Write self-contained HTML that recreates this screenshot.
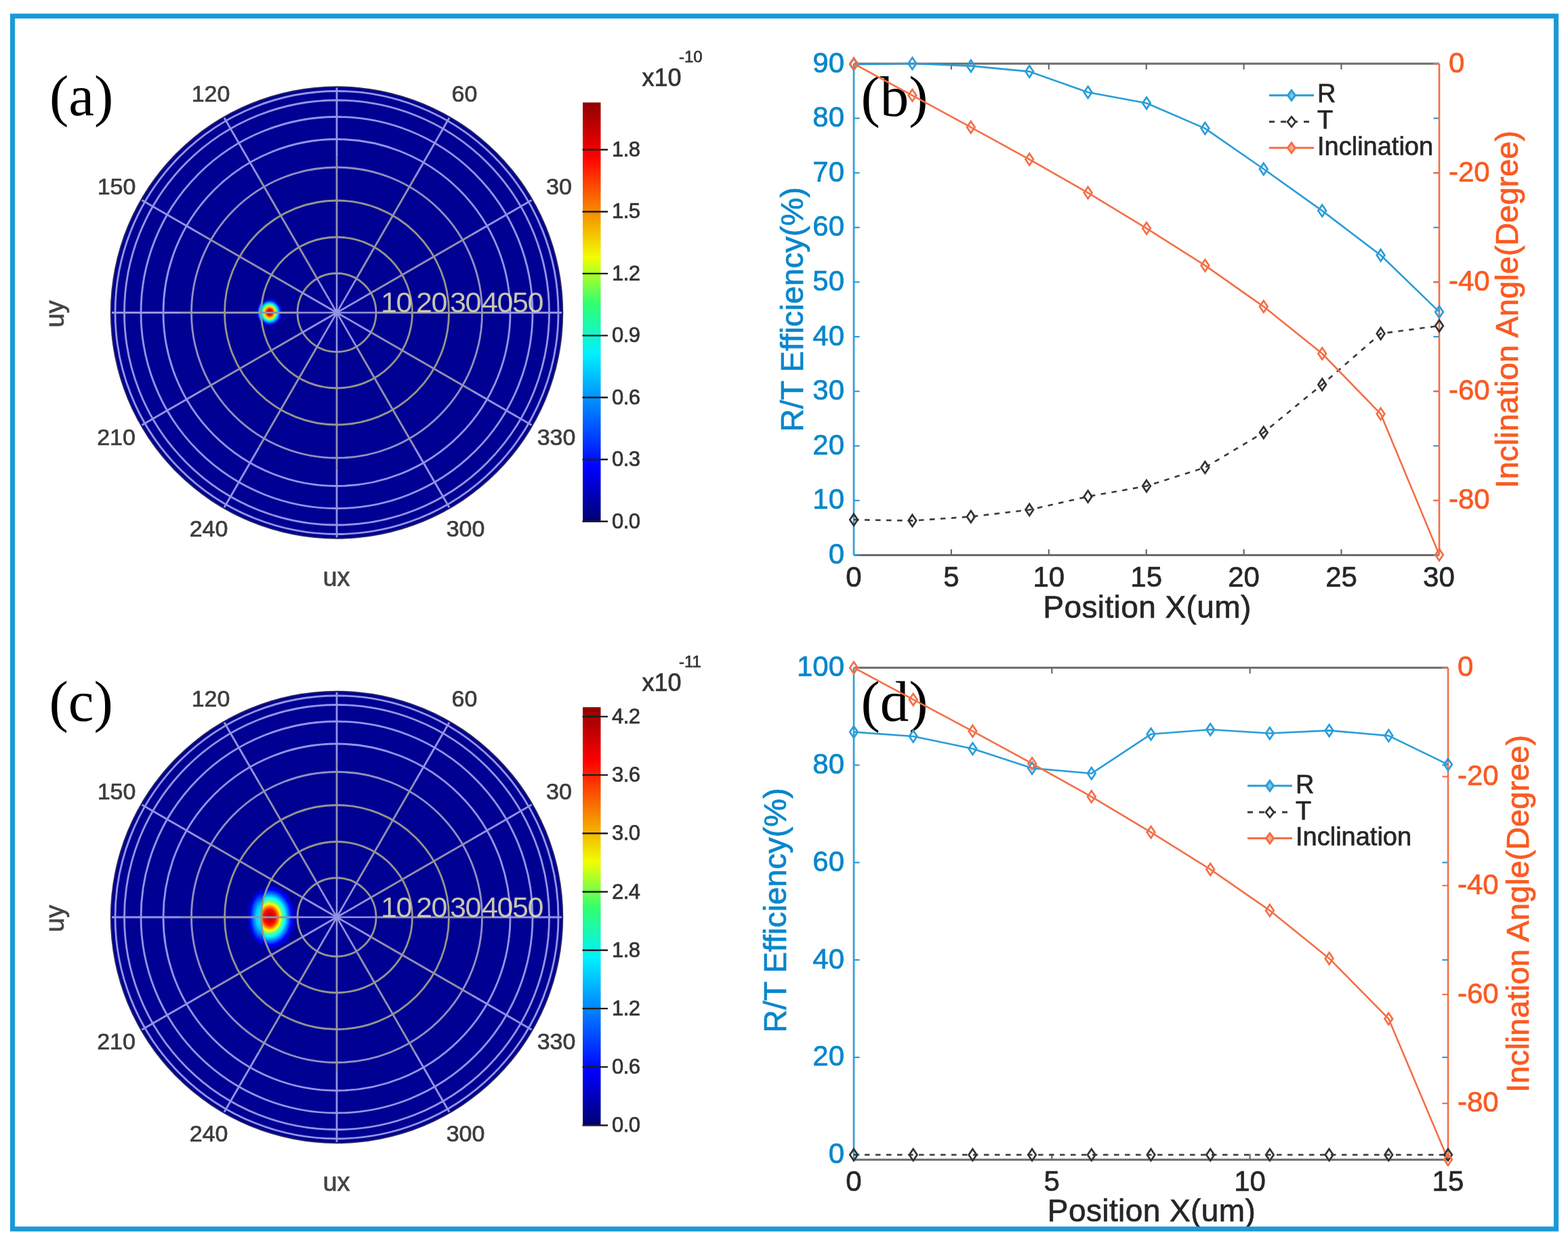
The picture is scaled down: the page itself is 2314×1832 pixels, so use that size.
<!DOCTYPE html>
<html><head><meta charset="utf-8"><title>Figure</title>
<style>html,body{margin:0;padding:0;background:#fff;}svg{display:block;}</style>
</head><body>
<svg width="2314" height="1832" viewBox="0 0 2314 1832">
<defs>
<linearGradient id="jet" x1="0" y1="1" x2="0" y2="0"><stop offset="0" stop-color="#000070"/><stop offset="0.13" stop-color="#0000ff"/><stop offset="0.40" stop-color="#00f0ff"/><stop offset="0.52" stop-color="#30ff70"/><stop offset="0.63" stop-color="#f0ff00"/><stop offset="0.87" stop-color="#ff0000"/><stop offset="1" stop-color="#900000"/></linearGradient>
<radialGradient id="spotA" cx="0.5" cy="0.5" r="0.5">
<stop offset="0" stop-color="#900000" stop-opacity="1"/>
<stop offset="0.14" stop-color="#d00000" stop-opacity="1"/>
<stop offset="0.26" stop-color="#ff3000" stop-opacity="1"/>
<stop offset="0.38" stop-color="#ffd000" stop-opacity="1"/>
<stop offset="0.48" stop-color="#a0ff60" stop-opacity="1"/>
<stop offset="0.58" stop-color="#00ffd0" stop-opacity="1"/>
<stop offset="0.68" stop-color="#00a0ff" stop-opacity="1"/>
<stop offset="0.8" stop-color="#0010ff" stop-opacity="1"/>
<stop offset="1" stop-color="#0000e0" stop-opacity="0"/>
</radialGradient>
<radialGradient id="spotC" cx="0.5" cy="0.5" r="0.5">
<stop offset="0" stop-color="#9a0000" stop-opacity="1"/>
<stop offset="0.1" stop-color="#d00000" stop-opacity="1"/>
<stop offset="0.24" stop-color="#ff1000" stop-opacity="1"/>
<stop offset="0.34" stop-color="#ff9000" stop-opacity="1"/>
<stop offset="0.41" stop-color="#ffff00" stop-opacity="1"/>
<stop offset="0.5" stop-color="#60ff90" stop-opacity="1"/>
<stop offset="0.6" stop-color="#00ffff" stop-opacity="1"/>
<stop offset="0.72" stop-color="#0080ff" stop-opacity="1"/>
<stop offset="0.85" stop-color="#0000ff" stop-opacity="1"/>
<stop offset="1" stop-color="#0000ff" stop-opacity="0"/>
</radialGradient>
<radialGradient id="spotL" cx="0.5" cy="0.5" r="0.5">
<stop offset="0" stop-color="#00ffff" stop-opacity="1"/>
<stop offset="0.4" stop-color="#00d0ff" stop-opacity="1"/>
<stop offset="0.65" stop-color="#0060ff" stop-opacity="1"/>
<stop offset="0.85" stop-color="#0000f0" stop-opacity="0.8"/>
<stop offset="1" stop-color="#0000e0" stop-opacity="0"/>
</radialGradient>
<radialGradient id="halo" cx="0.5" cy="0.5" r="0.5">
<stop offset="0" stop-color="#0000ff" stop-opacity="1"/>
<stop offset="0.8" stop-color="#0000f0" stop-opacity="0.9"/>
<stop offset="1" stop-color="#0000c0" stop-opacity="0"/>
</radialGradient>
<clipPath id="clipA"><circle cx="497" cy="461.5" r="111.5"/></clipPath>
<clipPath id="clipC"><circle cx="497" cy="1354" r="111.5"/></clipPath>
<clipPath id="clipAo"><path clip-rule="evenodd" d="M300 350H600V580H300Z M385.5 461.5a111.5 111.5 0 1 0 223 0a111.5 111.5 0 1 0 -223 0Z"/></clipPath>
<clipPath id="clipCo"><path clip-rule="evenodd" d="M300 1240H600V1470H300Z M385.5 1354a111.5 111.5 0 1 0 223 0a111.5 111.5 0 1 0 -223 0Z"/></clipPath>
</defs>
<rect x="0" y="0" width="2314" height="1832" fill="#ffffff"/>
<text x="73" y="169.5" font-size="85" fill="#000000" text-anchor="start" font-family="'Liberation Serif', 'Times New Roman', serif" >(a)</text>
<text x="72.5" y="1064" font-size="85" fill="#000000" text-anchor="start" font-family="'Liberation Serif', 'Times New Roman', serif" >(c)</text>
<circle cx="497" cy="461.5" r="334.2" fill="#262660"/>
<circle cx="497" cy="461.5" r="332.4" fill="#000092"/>
<ellipse cx="386" cy="461" rx="7" ry="17" fill="url(#spotL)" clip-path="url(#clipAo)"/>
<g clip-path="url(#clipA)">
<ellipse cx="398" cy="461" rx="19.5" ry="21.5" fill="url(#spotA)"/>
</g>
<circle cx="497" cy="461.5" r="58" fill="none" stroke="#96968a" stroke-width="2.8"/>
<circle cx="497" cy="461.5" r="111.5" fill="none" stroke="#96968a" stroke-width="2.8"/>
<circle cx="497" cy="461.5" r="165.5" fill="none" stroke="#96968a" stroke-width="2.8"/>
<circle cx="497" cy="461.5" r="214.5" fill="none" stroke="#9090c4" stroke-width="2.8"/>
<circle cx="497" cy="461.5" r="256" fill="none" stroke="#9494e8" stroke-width="2.8"/>
<circle cx="497" cy="461.5" r="289" fill="none" stroke="#9494e8" stroke-width="2.8"/>
<circle cx="497" cy="461.5" r="313.5" fill="none" stroke="#9494e8" stroke-width="2.8"/>
<circle cx="497" cy="461.5" r="327" fill="none" stroke="#9494e8" stroke-width="2.8"/>
<line x1="497" y1="461.5" x2="557" y2="461.5" stroke="#9494e0" stroke-width="2.6" />
<line x1="557" y1="461.5" x2="727" y2="461.5" stroke="#9292ac" stroke-width="2.8" />
<line x1="727" y1="461.5" x2="829" y2="461.5" stroke="#9494e6" stroke-width="2.8" />
<line x1="497" y1="461.5" x2="548.96" y2="431.5" stroke="#9494e0" stroke-width="2.6" />
<line x1="548.96" y1="431.5" x2="696.19" y2="346.5" stroke="#9292ac" stroke-width="2.8" />
<line x1="696.19" y1="346.5" x2="784.52" y2="295.5" stroke="#9494e6" stroke-width="2.8" />
<line x1="497" y1="461.5" x2="527" y2="409.54" stroke="#9494e0" stroke-width="2.6" />
<line x1="527" y1="409.54" x2="612" y2="262.31" stroke="#9292ac" stroke-width="2.8" />
<line x1="612" y1="262.31" x2="663" y2="173.98" stroke="#9494e6" stroke-width="2.8" />
<line x1="497" y1="461.5" x2="497" y2="401.5" stroke="#9494e0" stroke-width="2.6" />
<line x1="497" y1="401.5" x2="497" y2="231.5" stroke="#9292ac" stroke-width="2.8" />
<line x1="497" y1="231.5" x2="497" y2="129.5" stroke="#9494e6" stroke-width="2.8" />
<line x1="497" y1="461.5" x2="467" y2="409.54" stroke="#9494e0" stroke-width="2.6" />
<line x1="467" y1="409.54" x2="382" y2="262.31" stroke="#9292ac" stroke-width="2.8" />
<line x1="382" y1="262.31" x2="331" y2="173.98" stroke="#9494e6" stroke-width="2.8" />
<line x1="497" y1="461.5" x2="445.04" y2="431.5" stroke="#9494e0" stroke-width="2.6" />
<line x1="445.04" y1="431.5" x2="297.81" y2="346.5" stroke="#9292ac" stroke-width="2.8" />
<line x1="297.81" y1="346.5" x2="209.48" y2="295.5" stroke="#9494e6" stroke-width="2.8" />
<line x1="497" y1="461.5" x2="437" y2="461.5" stroke="#9494e0" stroke-width="2.6" />
<line x1="437" y1="461.5" x2="267" y2="461.5" stroke="#9292ac" stroke-width="2.8" />
<line x1="267" y1="461.5" x2="165" y2="461.5" stroke="#9494e6" stroke-width="2.8" />
<line x1="497" y1="461.5" x2="445.04" y2="491.5" stroke="#9494e0" stroke-width="2.6" />
<line x1="445.04" y1="491.5" x2="297.81" y2="576.5" stroke="#9292ac" stroke-width="2.8" />
<line x1="297.81" y1="576.5" x2="209.48" y2="627.5" stroke="#9494e6" stroke-width="2.8" />
<line x1="497" y1="461.5" x2="467" y2="513.46" stroke="#9494e0" stroke-width="2.6" />
<line x1="467" y1="513.46" x2="382" y2="660.69" stroke="#9292ac" stroke-width="2.8" />
<line x1="382" y1="660.69" x2="331" y2="749.02" stroke="#9494e6" stroke-width="2.8" />
<line x1="497" y1="461.5" x2="497" y2="521.5" stroke="#9494e0" stroke-width="2.6" />
<line x1="497" y1="521.5" x2="497" y2="691.5" stroke="#9292ac" stroke-width="2.8" />
<line x1="497" y1="691.5" x2="497" y2="793.5" stroke="#9494e6" stroke-width="2.8" />
<line x1="497" y1="461.5" x2="527" y2="513.46" stroke="#9494e0" stroke-width="2.6" />
<line x1="527" y1="513.46" x2="612" y2="660.69" stroke="#9292ac" stroke-width="2.8" />
<line x1="612" y1="660.69" x2="663" y2="749.02" stroke="#9494e6" stroke-width="2.8" />
<line x1="497" y1="461.5" x2="548.96" y2="491.5" stroke="#9494e0" stroke-width="2.6" />
<line x1="548.96" y1="491.5" x2="696.19" y2="576.5" stroke="#9292ac" stroke-width="2.8" />
<line x1="696.19" y1="576.5" x2="784.52" y2="627.5" stroke="#9494e6" stroke-width="2.8" />
<text x="562" y="461" font-size="43" fill="#dcdcb4" text-anchor="start" font-family="'Liberation Sans', Arial, Helvetica, sans-serif" letter-spacing="-1.5" fill-opacity="0.9">10</text>
<text x="614" y="461" font-size="43" fill="#dcdcb4" text-anchor="start" font-family="'Liberation Sans', Arial, Helvetica, sans-serif" letter-spacing="-1.5" fill-opacity="0.9">20</text>
<text x="664" y="461" font-size="43" fill="#dcdcb4" text-anchor="start" font-family="'Liberation Sans', Arial, Helvetica, sans-serif" letter-spacing="-1.5" fill-opacity="0.9">30</text>
<text x="711" y="461" font-size="43" fill="#dcdcb4" text-anchor="start" font-family="'Liberation Sans', Arial, Helvetica, sans-serif" letter-spacing="-1.5" fill-opacity="0.9">40</text>
<text x="756" y="461" font-size="43" fill="#dcdcb4" text-anchor="start" font-family="'Liberation Sans', Arial, Helvetica, sans-serif" letter-spacing="-1.5" fill-opacity="0.9">50</text>
<text x="311" y="150" font-size="34" fill="#3c3c3c" text-anchor="middle" font-family="'Liberation Sans', Arial, Helvetica, sans-serif" stroke="#3c3c3c" stroke-width="0.7" >120</text>
<text x="685.5" y="150" font-size="34" fill="#3c3c3c" text-anchor="middle" font-family="'Liberation Sans', Arial, Helvetica, sans-serif" stroke="#3c3c3c" stroke-width="0.7" >60</text>
<text x="172" y="287" font-size="34" fill="#3c3c3c" text-anchor="middle" font-family="'Liberation Sans', Arial, Helvetica, sans-serif" stroke="#3c3c3c" stroke-width="0.7" >150</text>
<text x="825" y="287" font-size="34" fill="#3c3c3c" text-anchor="middle" font-family="'Liberation Sans', Arial, Helvetica, sans-serif" stroke="#3c3c3c" stroke-width="0.7" >30</text>
<text x="171.5" y="656.5" font-size="34" fill="#3c3c3c" text-anchor="middle" font-family="'Liberation Sans', Arial, Helvetica, sans-serif" stroke="#3c3c3c" stroke-width="0.7" >210</text>
<text x="821" y="656.5" font-size="34" fill="#3c3c3c" text-anchor="middle" font-family="'Liberation Sans', Arial, Helvetica, sans-serif" stroke="#3c3c3c" stroke-width="0.7" >330</text>
<text x="308" y="792" font-size="34" fill="#3c3c3c" text-anchor="middle" font-family="'Liberation Sans', Arial, Helvetica, sans-serif" stroke="#3c3c3c" stroke-width="0.7" >240</text>
<text x="687" y="792" font-size="34" fill="#3c3c3c" text-anchor="middle" font-family="'Liberation Sans', Arial, Helvetica, sans-serif" stroke="#3c3c3c" stroke-width="0.7" >300</text>
<text x="496.5" y="865" font-size="38" fill="#444444" text-anchor="middle" font-family="'Liberation Sans', Arial, Helvetica, sans-serif" stroke="#444444" stroke-width="0.7" >ux</text>
<text transform="translate(94,463.5) rotate(-90)" font-size="38" fill="#444444" stroke="#444444" stroke-width="0.7" text-anchor="middle" font-family="'Liberation Sans', Arial, Helvetica, sans-serif">uy</text>
<rect x="860" y="151.3" width="26.5" height="618.4" fill="url(#jet)"/>
<line x1="859.5" y1="769.7" x2="897" y2="769.7" stroke="#1e1e1e" stroke-width="2.4" />
<text x="903" y="779.7" font-size="31" fill="#333333" text-anchor="start" font-family="'Liberation Sans', Arial, Helvetica, sans-serif" stroke="#333333" stroke-width="0.7" letter-spacing="-0.5">0.0</text>
<line x1="859.5" y1="678.25" x2="897" y2="678.25" stroke="#1e1e1e" stroke-width="2.4" />
<text x="903" y="688.25" font-size="31" fill="#333333" text-anchor="start" font-family="'Liberation Sans', Arial, Helvetica, sans-serif" stroke="#333333" stroke-width="0.7" letter-spacing="-0.5">0.3</text>
<line x1="859.5" y1="586.8" x2="897" y2="586.8" stroke="#1e1e1e" stroke-width="2.4" />
<text x="903" y="596.8" font-size="31" fill="#333333" text-anchor="start" font-family="'Liberation Sans', Arial, Helvetica, sans-serif" stroke="#333333" stroke-width="0.7" letter-spacing="-0.5">0.6</text>
<line x1="859.5" y1="495.35" x2="897" y2="495.35" stroke="#1e1e1e" stroke-width="2.4" />
<text x="903" y="505.35" font-size="31" fill="#333333" text-anchor="start" font-family="'Liberation Sans', Arial, Helvetica, sans-serif" stroke="#333333" stroke-width="0.7" letter-spacing="-0.5">0.9</text>
<line x1="859.5" y1="403.9" x2="897" y2="403.9" stroke="#1e1e1e" stroke-width="2.4" />
<text x="903" y="413.9" font-size="31" fill="#333333" text-anchor="start" font-family="'Liberation Sans', Arial, Helvetica, sans-serif" stroke="#333333" stroke-width="0.7" letter-spacing="-0.5">1.2</text>
<line x1="859.5" y1="312.45" x2="897" y2="312.45" stroke="#1e1e1e" stroke-width="2.4" />
<text x="903" y="322.45" font-size="31" fill="#333333" text-anchor="start" font-family="'Liberation Sans', Arial, Helvetica, sans-serif" stroke="#333333" stroke-width="0.7" letter-spacing="-0.5">1.5</text>
<line x1="859.5" y1="221" x2="897" y2="221" stroke="#1e1e1e" stroke-width="2.4" />
<text x="903" y="231" font-size="31" fill="#333333" text-anchor="start" font-family="'Liberation Sans', Arial, Helvetica, sans-serif" stroke="#333333" stroke-width="0.7" letter-spacing="-0.5">1.8</text>
<text x="947.5" y="127" font-size="36" fill="#333333" text-anchor="start" font-family="'Liberation Sans', Arial, Helvetica, sans-serif" stroke="#333333" stroke-width="0.7" >x10</text>
<text x="1002" y="92" font-size="24" fill="#333333" text-anchor="start" font-family="'Liberation Sans', Arial, Helvetica, sans-serif" stroke="#333333" stroke-width="0.7" >-10</text>
<circle cx="497" cy="1354" r="334.2" fill="#262660"/>
<circle cx="497" cy="1354" r="332.4" fill="#000092"/>
<ellipse cx="400" cy="1354" rx="38" ry="47" fill="url(#halo)"/>
<ellipse cx="386" cy="1354" rx="20" ry="42" fill="url(#spotL)" clip-path="url(#clipCo)"/>
<g clip-path="url(#clipC)">
<ellipse cx="398" cy="1354" rx="38" ry="48" fill="url(#spotC)"/>
</g>
<circle cx="497" cy="1354" r="58" fill="none" stroke="#96968a" stroke-width="2.8"/>
<circle cx="497" cy="1354" r="111.5" fill="none" stroke="#96968a" stroke-width="2.8"/>
<circle cx="497" cy="1354" r="165.5" fill="none" stroke="#96968a" stroke-width="2.8"/>
<circle cx="497" cy="1354" r="214.5" fill="none" stroke="#9090c4" stroke-width="2.8"/>
<circle cx="497" cy="1354" r="256" fill="none" stroke="#9494e8" stroke-width="2.8"/>
<circle cx="497" cy="1354" r="289" fill="none" stroke="#9494e8" stroke-width="2.8"/>
<circle cx="497" cy="1354" r="313.5" fill="none" stroke="#9494e8" stroke-width="2.8"/>
<circle cx="497" cy="1354" r="327" fill="none" stroke="#9494e8" stroke-width="2.8"/>
<line x1="497" y1="1354" x2="557" y2="1354" stroke="#9494e0" stroke-width="2.6" />
<line x1="557" y1="1354" x2="727" y2="1354" stroke="#9292ac" stroke-width="2.8" />
<line x1="727" y1="1354" x2="829" y2="1354" stroke="#9494e6" stroke-width="2.8" />
<line x1="497" y1="1354" x2="548.96" y2="1324" stroke="#9494e0" stroke-width="2.6" />
<line x1="548.96" y1="1324" x2="696.19" y2="1239" stroke="#9292ac" stroke-width="2.8" />
<line x1="696.19" y1="1239" x2="784.52" y2="1188" stroke="#9494e6" stroke-width="2.8" />
<line x1="497" y1="1354" x2="527" y2="1302.04" stroke="#9494e0" stroke-width="2.6" />
<line x1="527" y1="1302.04" x2="612" y2="1154.81" stroke="#9292ac" stroke-width="2.8" />
<line x1="612" y1="1154.81" x2="663" y2="1066.48" stroke="#9494e6" stroke-width="2.8" />
<line x1="497" y1="1354" x2="497" y2="1294" stroke="#9494e0" stroke-width="2.6" />
<line x1="497" y1="1294" x2="497" y2="1124" stroke="#9292ac" stroke-width="2.8" />
<line x1="497" y1="1124" x2="497" y2="1022" stroke="#9494e6" stroke-width="2.8" />
<line x1="497" y1="1354" x2="467" y2="1302.04" stroke="#9494e0" stroke-width="2.6" />
<line x1="467" y1="1302.04" x2="382" y2="1154.81" stroke="#9292ac" stroke-width="2.8" />
<line x1="382" y1="1154.81" x2="331" y2="1066.48" stroke="#9494e6" stroke-width="2.8" />
<line x1="497" y1="1354" x2="445.04" y2="1324" stroke="#9494e0" stroke-width="2.6" />
<line x1="445.04" y1="1324" x2="297.81" y2="1239" stroke="#9292ac" stroke-width="2.8" />
<line x1="297.81" y1="1239" x2="209.48" y2="1188" stroke="#9494e6" stroke-width="2.8" />
<line x1="497" y1="1354" x2="437" y2="1354" stroke="#9494e0" stroke-width="2.6" />
<line x1="437" y1="1354" x2="267" y2="1354" stroke="#9292ac" stroke-width="2.8" />
<line x1="267" y1="1354" x2="165" y2="1354" stroke="#9494e6" stroke-width="2.8" />
<line x1="497" y1="1354" x2="445.04" y2="1384" stroke="#9494e0" stroke-width="2.6" />
<line x1="445.04" y1="1384" x2="297.81" y2="1469" stroke="#9292ac" stroke-width="2.8" />
<line x1="297.81" y1="1469" x2="209.48" y2="1520" stroke="#9494e6" stroke-width="2.8" />
<line x1="497" y1="1354" x2="467" y2="1405.96" stroke="#9494e0" stroke-width="2.6" />
<line x1="467" y1="1405.96" x2="382" y2="1553.19" stroke="#9292ac" stroke-width="2.8" />
<line x1="382" y1="1553.19" x2="331" y2="1641.52" stroke="#9494e6" stroke-width="2.8" />
<line x1="497" y1="1354" x2="497" y2="1414" stroke="#9494e0" stroke-width="2.6" />
<line x1="497" y1="1414" x2="497" y2="1584" stroke="#9292ac" stroke-width="2.8" />
<line x1="497" y1="1584" x2="497" y2="1686" stroke="#9494e6" stroke-width="2.8" />
<line x1="497" y1="1354" x2="527" y2="1405.96" stroke="#9494e0" stroke-width="2.6" />
<line x1="527" y1="1405.96" x2="612" y2="1553.19" stroke="#9292ac" stroke-width="2.8" />
<line x1="612" y1="1553.19" x2="663" y2="1641.52" stroke="#9494e6" stroke-width="2.8" />
<line x1="497" y1="1354" x2="548.96" y2="1384" stroke="#9494e0" stroke-width="2.6" />
<line x1="548.96" y1="1384" x2="696.19" y2="1469" stroke="#9292ac" stroke-width="2.8" />
<line x1="696.19" y1="1469" x2="784.52" y2="1520" stroke="#9494e6" stroke-width="2.8" />
<text x="562" y="1353.5" font-size="43" fill="#dcdcb4" text-anchor="start" font-family="'Liberation Sans', Arial, Helvetica, sans-serif" letter-spacing="-1.5" fill-opacity="0.9">10</text>
<text x="614" y="1353.5" font-size="43" fill="#dcdcb4" text-anchor="start" font-family="'Liberation Sans', Arial, Helvetica, sans-serif" letter-spacing="-1.5" fill-opacity="0.9">20</text>
<text x="664" y="1353.5" font-size="43" fill="#dcdcb4" text-anchor="start" font-family="'Liberation Sans', Arial, Helvetica, sans-serif" letter-spacing="-1.5" fill-opacity="0.9">30</text>
<text x="711" y="1353.5" font-size="43" fill="#dcdcb4" text-anchor="start" font-family="'Liberation Sans', Arial, Helvetica, sans-serif" letter-spacing="-1.5" fill-opacity="0.9">40</text>
<text x="756" y="1353.5" font-size="43" fill="#dcdcb4" text-anchor="start" font-family="'Liberation Sans', Arial, Helvetica, sans-serif" letter-spacing="-1.5" fill-opacity="0.9">50</text>
<text x="311" y="1042.5" font-size="34" fill="#3c3c3c" text-anchor="middle" font-family="'Liberation Sans', Arial, Helvetica, sans-serif" stroke="#3c3c3c" stroke-width="0.7" >120</text>
<text x="685.5" y="1042.5" font-size="34" fill="#3c3c3c" text-anchor="middle" font-family="'Liberation Sans', Arial, Helvetica, sans-serif" stroke="#3c3c3c" stroke-width="0.7" >60</text>
<text x="172" y="1179.5" font-size="34" fill="#3c3c3c" text-anchor="middle" font-family="'Liberation Sans', Arial, Helvetica, sans-serif" stroke="#3c3c3c" stroke-width="0.7" >150</text>
<text x="825" y="1179.5" font-size="34" fill="#3c3c3c" text-anchor="middle" font-family="'Liberation Sans', Arial, Helvetica, sans-serif" stroke="#3c3c3c" stroke-width="0.7" >30</text>
<text x="171.5" y="1549" font-size="34" fill="#3c3c3c" text-anchor="middle" font-family="'Liberation Sans', Arial, Helvetica, sans-serif" stroke="#3c3c3c" stroke-width="0.7" >210</text>
<text x="821" y="1549" font-size="34" fill="#3c3c3c" text-anchor="middle" font-family="'Liberation Sans', Arial, Helvetica, sans-serif" stroke="#3c3c3c" stroke-width="0.7" >330</text>
<text x="308" y="1684.5" font-size="34" fill="#3c3c3c" text-anchor="middle" font-family="'Liberation Sans', Arial, Helvetica, sans-serif" stroke="#3c3c3c" stroke-width="0.7" >240</text>
<text x="687" y="1684.5" font-size="34" fill="#3c3c3c" text-anchor="middle" font-family="'Liberation Sans', Arial, Helvetica, sans-serif" stroke="#3c3c3c" stroke-width="0.7" >300</text>
<text x="496.5" y="1757.5" font-size="38" fill="#444444" text-anchor="middle" font-family="'Liberation Sans', Arial, Helvetica, sans-serif" stroke="#444444" stroke-width="0.7" >ux</text>
<text transform="translate(94,1356) rotate(-90)" font-size="38" fill="#444444" stroke="#444444" stroke-width="0.7" text-anchor="middle" font-family="'Liberation Sans', Arial, Helvetica, sans-serif">uy</text>
<rect x="860" y="1044" width="26.5" height="617.3" fill="url(#jet)"/>
<line x1="859.5" y1="1661.3" x2="897" y2="1661.3" stroke="#1e1e1e" stroke-width="2.4" />
<text x="903" y="1671.3" font-size="31" fill="#333333" text-anchor="start" font-family="'Liberation Sans', Arial, Helvetica, sans-serif" stroke="#333333" stroke-width="0.7" letter-spacing="-0.5">0.0</text>
<line x1="859.5" y1="1575.1" x2="897" y2="1575.1" stroke="#1e1e1e" stroke-width="2.4" />
<text x="903" y="1585.1" font-size="31" fill="#333333" text-anchor="start" font-family="'Liberation Sans', Arial, Helvetica, sans-serif" stroke="#333333" stroke-width="0.7" letter-spacing="-0.5">0.6</text>
<line x1="859.5" y1="1488.9" x2="897" y2="1488.9" stroke="#1e1e1e" stroke-width="2.4" />
<text x="903" y="1498.9" font-size="31" fill="#333333" text-anchor="start" font-family="'Liberation Sans', Arial, Helvetica, sans-serif" stroke="#333333" stroke-width="0.7" letter-spacing="-0.5">1.2</text>
<line x1="859.5" y1="1402.7" x2="897" y2="1402.7" stroke="#1e1e1e" stroke-width="2.4" />
<text x="903" y="1412.7" font-size="31" fill="#333333" text-anchor="start" font-family="'Liberation Sans', Arial, Helvetica, sans-serif" stroke="#333333" stroke-width="0.7" letter-spacing="-0.5">1.8</text>
<line x1="859.5" y1="1316.5" x2="897" y2="1316.5" stroke="#1e1e1e" stroke-width="2.4" />
<text x="903" y="1326.5" font-size="31" fill="#333333" text-anchor="start" font-family="'Liberation Sans', Arial, Helvetica, sans-serif" stroke="#333333" stroke-width="0.7" letter-spacing="-0.5">2.4</text>
<line x1="859.5" y1="1230.3" x2="897" y2="1230.3" stroke="#1e1e1e" stroke-width="2.4" />
<text x="903" y="1240.3" font-size="31" fill="#333333" text-anchor="start" font-family="'Liberation Sans', Arial, Helvetica, sans-serif" stroke="#333333" stroke-width="0.7" letter-spacing="-0.5">3.0</text>
<line x1="859.5" y1="1144.1" x2="897" y2="1144.1" stroke="#1e1e1e" stroke-width="2.4" />
<text x="903" y="1154.1" font-size="31" fill="#333333" text-anchor="start" font-family="'Liberation Sans', Arial, Helvetica, sans-serif" stroke="#333333" stroke-width="0.7" letter-spacing="-0.5">3.6</text>
<line x1="859.5" y1="1057.9" x2="897" y2="1057.9" stroke="#1e1e1e" stroke-width="2.4" />
<text x="903" y="1067.9" font-size="31" fill="#333333" text-anchor="start" font-family="'Liberation Sans', Arial, Helvetica, sans-serif" stroke="#333333" stroke-width="0.7" letter-spacing="-0.5">4.2</text>
<text x="947.5" y="1019.5" font-size="36" fill="#333333" text-anchor="start" font-family="'Liberation Sans', Arial, Helvetica, sans-serif" stroke="#333333" stroke-width="0.7" >x10</text>
<text x="1002" y="984.5" font-size="24" fill="#333333" text-anchor="start" font-family="'Liberation Sans', Arial, Helvetica, sans-serif" stroke="#333333" stroke-width="0.7" >-11</text>
<text x="1270.5" y="170.5" font-size="85" fill="#000000" text-anchor="start" font-family="'Liberation Serif', 'Times New Roman', serif" >(b)</text>
<text x="1270.5" y="1063.5" font-size="85" fill="#000000" text-anchor="start" font-family="'Liberation Serif', 'Times New Roman', serif" >(d)</text>
<line x1="1260" y1="94" x2="2124" y2="94" stroke="#6a6a6a" stroke-width="3" />
<line x1="1260" y1="819.5" x2="2124" y2="819.5" stroke="#6a6a6a" stroke-width="3" />
<line x1="1403.9" y1="819.5" x2="1403.9" y2="810.9" stroke="#6a6a6a" stroke-width="2.2" />
<line x1="1403.9" y1="94" x2="1403.9" y2="102.6" stroke="#6a6a6a" stroke-width="2.2" />
<line x1="1547.8" y1="819.5" x2="1547.8" y2="810.9" stroke="#6a6a6a" stroke-width="2.2" />
<line x1="1547.8" y1="94" x2="1547.8" y2="102.6" stroke="#6a6a6a" stroke-width="2.2" />
<line x1="1691.7" y1="819.5" x2="1691.7" y2="810.9" stroke="#6a6a6a" stroke-width="2.2" />
<line x1="1691.7" y1="94" x2="1691.7" y2="102.6" stroke="#6a6a6a" stroke-width="2.2" />
<line x1="1835.6" y1="819.5" x2="1835.6" y2="810.9" stroke="#6a6a6a" stroke-width="2.2" />
<line x1="1835.6" y1="94" x2="1835.6" y2="102.6" stroke="#6a6a6a" stroke-width="2.2" />
<line x1="1979.5" y1="819.5" x2="1979.5" y2="810.9" stroke="#6a6a6a" stroke-width="2.2" />
<line x1="1979.5" y1="94" x2="1979.5" y2="102.6" stroke="#6a6a6a" stroke-width="2.2" />
<line x1="1260" y1="819.5" x2="1268.6" y2="819.5" stroke="#2a9dd8" stroke-width="2.2" />
<line x1="2124" y1="819.5" x2="2115.4" y2="819.5" stroke="#2a9dd8" stroke-width="2.2" />
<text x="1246" y="832" font-size="42" fill="#0886cc" text-anchor="end" font-family="'Liberation Sans', Arial, Helvetica, sans-serif" stroke="#0886cc" stroke-width="0.7" >0</text>
<line x1="1260" y1="738.89" x2="1268.6" y2="738.89" stroke="#2a9dd8" stroke-width="2.2" />
<line x1="2124" y1="738.89" x2="2115.4" y2="738.89" stroke="#2a9dd8" stroke-width="2.2" />
<text x="1246" y="751.39" font-size="42" fill="#0886cc" text-anchor="end" font-family="'Liberation Sans', Arial, Helvetica, sans-serif" stroke="#0886cc" stroke-width="0.7" >10</text>
<line x1="1260" y1="658.28" x2="1268.6" y2="658.28" stroke="#2a9dd8" stroke-width="2.2" />
<line x1="2124" y1="658.28" x2="2115.4" y2="658.28" stroke="#2a9dd8" stroke-width="2.2" />
<text x="1246" y="670.78" font-size="42" fill="#0886cc" text-anchor="end" font-family="'Liberation Sans', Arial, Helvetica, sans-serif" stroke="#0886cc" stroke-width="0.7" >20</text>
<line x1="1260" y1="577.67" x2="1268.6" y2="577.67" stroke="#2a9dd8" stroke-width="2.2" />
<line x1="2124" y1="577.67" x2="2115.4" y2="577.67" stroke="#2a9dd8" stroke-width="2.2" />
<text x="1246" y="590.17" font-size="42" fill="#0886cc" text-anchor="end" font-family="'Liberation Sans', Arial, Helvetica, sans-serif" stroke="#0886cc" stroke-width="0.7" >30</text>
<line x1="1260" y1="497.06" x2="1268.6" y2="497.06" stroke="#2a9dd8" stroke-width="2.2" />
<line x1="2124" y1="497.06" x2="2115.4" y2="497.06" stroke="#2a9dd8" stroke-width="2.2" />
<text x="1246" y="509.56" font-size="42" fill="#0886cc" text-anchor="end" font-family="'Liberation Sans', Arial, Helvetica, sans-serif" stroke="#0886cc" stroke-width="0.7" >40</text>
<line x1="1260" y1="416.44" x2="1268.6" y2="416.44" stroke="#2a9dd8" stroke-width="2.2" />
<line x1="2124" y1="416.44" x2="2115.4" y2="416.44" stroke="#2a9dd8" stroke-width="2.2" />
<text x="1246" y="428.94" font-size="42" fill="#0886cc" text-anchor="end" font-family="'Liberation Sans', Arial, Helvetica, sans-serif" stroke="#0886cc" stroke-width="0.7" >50</text>
<line x1="1260" y1="335.83" x2="1268.6" y2="335.83" stroke="#2a9dd8" stroke-width="2.2" />
<line x1="2124" y1="335.83" x2="2115.4" y2="335.83" stroke="#2a9dd8" stroke-width="2.2" />
<text x="1246" y="348.33" font-size="42" fill="#0886cc" text-anchor="end" font-family="'Liberation Sans', Arial, Helvetica, sans-serif" stroke="#0886cc" stroke-width="0.7" >60</text>
<line x1="1260" y1="255.22" x2="1268.6" y2="255.22" stroke="#2a9dd8" stroke-width="2.2" />
<line x1="2124" y1="255.22" x2="2115.4" y2="255.22" stroke="#2a9dd8" stroke-width="2.2" />
<text x="1246" y="267.72" font-size="42" fill="#0886cc" text-anchor="end" font-family="'Liberation Sans', Arial, Helvetica, sans-serif" stroke="#0886cc" stroke-width="0.7" >70</text>
<line x1="1260" y1="174.61" x2="1268.6" y2="174.61" stroke="#2a9dd8" stroke-width="2.2" />
<line x1="2124" y1="174.61" x2="2115.4" y2="174.61" stroke="#2a9dd8" stroke-width="2.2" />
<text x="1246" y="187.11" font-size="42" fill="#0886cc" text-anchor="end" font-family="'Liberation Sans', Arial, Helvetica, sans-serif" stroke="#0886cc" stroke-width="0.7" >80</text>
<line x1="1260" y1="94" x2="1268.6" y2="94" stroke="#2a9dd8" stroke-width="2.2" />
<line x1="2124" y1="94" x2="2115.4" y2="94" stroke="#2a9dd8" stroke-width="2.2" />
<text x="1246" y="106.5" font-size="42" fill="#0886cc" text-anchor="end" font-family="'Liberation Sans', Arial, Helvetica, sans-serif" stroke="#0886cc" stroke-width="0.7" >90</text>
<line x1="2124" y1="94" x2="2115.4" y2="94" stroke="#f46f47" stroke-width="2.2" />
<text x="2138" y="106.5" font-size="42" fill="#fa5a22" text-anchor="start" font-family="'Liberation Sans', Arial, Helvetica, sans-serif" stroke="#fa5a22" stroke-width="0.7" >0</text>
<line x1="2124" y1="255.22" x2="2115.4" y2="255.22" stroke="#f46f47" stroke-width="2.2" />
<text x="2138" y="267.72" font-size="42" fill="#fa5a22" text-anchor="start" font-family="'Liberation Sans', Arial, Helvetica, sans-serif" stroke="#fa5a22" stroke-width="0.7" >-20</text>
<line x1="2124" y1="416.44" x2="2115.4" y2="416.44" stroke="#f46f47" stroke-width="2.2" />
<text x="2138" y="428.94" font-size="42" fill="#fa5a22" text-anchor="start" font-family="'Liberation Sans', Arial, Helvetica, sans-serif" stroke="#fa5a22" stroke-width="0.7" >-40</text>
<line x1="2124" y1="577.67" x2="2115.4" y2="577.67" stroke="#f46f47" stroke-width="2.2" />
<text x="2138" y="590.17" font-size="42" fill="#fa5a22" text-anchor="start" font-family="'Liberation Sans', Arial, Helvetica, sans-serif" stroke="#fa5a22" stroke-width="0.7" >-60</text>
<line x1="2124" y1="738.89" x2="2115.4" y2="738.89" stroke="#f46f47" stroke-width="2.2" />
<text x="2138" y="751.39" font-size="42" fill="#fa5a22" text-anchor="start" font-family="'Liberation Sans', Arial, Helvetica, sans-serif" stroke="#fa5a22" stroke-width="0.7" >-80</text>
<line x1="1260" y1="94" x2="1260" y2="819.5" stroke="#2a9dd8" stroke-width="2.6" />
<line x1="2124" y1="94" x2="2124" y2="819.5" stroke="#f46f47" stroke-width="2.6" />
<text x="1260" y="865.5" font-size="42" fill="#262626" text-anchor="middle" font-family="'Liberation Sans', Arial, Helvetica, sans-serif" stroke="#262626" stroke-width="0.7" >0</text>
<text x="1403.9" y="865.5" font-size="42" fill="#262626" text-anchor="middle" font-family="'Liberation Sans', Arial, Helvetica, sans-serif" stroke="#262626" stroke-width="0.7" >5</text>
<text x="1547.8" y="865.5" font-size="42" fill="#262626" text-anchor="middle" font-family="'Liberation Sans', Arial, Helvetica, sans-serif" stroke="#262626" stroke-width="0.7" >10</text>
<text x="1691.7" y="865.5" font-size="42" fill="#262626" text-anchor="middle" font-family="'Liberation Sans', Arial, Helvetica, sans-serif" stroke="#262626" stroke-width="0.7" >15</text>
<text x="1835.6" y="865.5" font-size="42" fill="#262626" text-anchor="middle" font-family="'Liberation Sans', Arial, Helvetica, sans-serif" stroke="#262626" stroke-width="0.7" >20</text>
<text x="1979.5" y="865.5" font-size="42" fill="#262626" text-anchor="middle" font-family="'Liberation Sans', Arial, Helvetica, sans-serif" stroke="#262626" stroke-width="0.7" >25</text>
<text x="2123.4" y="865.5" font-size="42" fill="#262626" text-anchor="middle" font-family="'Liberation Sans', Arial, Helvetica, sans-serif" stroke="#262626" stroke-width="0.7" >30</text>
<polyline points="1260,767.3 1346.4,768.6 1432.8,762.7 1519.2,752.6 1605.6,733 1692,717.5 1778.4,690.1 1864.8,638.5 1951.2,567.7 2037.6,492.4 2124,481" fill="none" stroke="#3a3a3a" stroke-width="2.6" stroke-linejoin="round" stroke-dasharray="7.5 8.5"/>
<polyline points="1260,95.1 1346.4,93.7 1432.8,97.4 1519.2,105.6 1605.6,136.2 1692,152.2 1778.4,189.6 1864.8,249.5 1951.2,311.1 2037.6,376.8 2124,460.4" fill="none" stroke="#2a9dd8" stroke-width="2.6" stroke-linejoin="round" />
<polyline points="1260,94 1346.4,140.8 1432.8,187.8 1519.2,235.3 1605.6,284.6 1692,337.1 1778.4,391.9 1864.8,452.6 1951.2,522 2037.6,611.1 2124,818.9" fill="none" stroke="#f46f47" stroke-width="2.6" stroke-linejoin="round" />
<path d="M1260 758.7L1265.8 767.3L1260 775.9L1254.2 767.3Z" fill="none" stroke="#333333" stroke-width="2.7"/>
<path d="M1346.4 760L1352.2 768.6L1346.4 777.2L1340.6 768.6Z" fill="none" stroke="#333333" stroke-width="2.7"/>
<path d="M1432.8 754.1L1438.6 762.7L1432.8 771.3L1427 762.7Z" fill="none" stroke="#333333" stroke-width="2.7"/>
<path d="M1519.2 744L1525 752.6L1519.2 761.2L1513.4 752.6Z" fill="none" stroke="#333333" stroke-width="2.7"/>
<path d="M1605.6 724.4L1611.4 733L1605.6 741.6L1599.8 733Z" fill="none" stroke="#333333" stroke-width="2.7"/>
<path d="M1692 708.9L1697.8 717.5L1692 726.1L1686.2 717.5Z" fill="none" stroke="#333333" stroke-width="2.7"/>
<path d="M1778.4 681.5L1784.2 690.1L1778.4 698.7L1772.6 690.1Z" fill="none" stroke="#333333" stroke-width="2.7"/>
<path d="M1864.8 629.9L1870.6 638.5L1864.8 647.1L1859 638.5Z" fill="none" stroke="#333333" stroke-width="2.7"/>
<path d="M1951.2 559.1L1957 567.7L1951.2 576.3L1945.4 567.7Z" fill="none" stroke="#333333" stroke-width="2.7"/>
<path d="M2037.6 483.8L2043.4 492.4L2037.6 501L2031.8 492.4Z" fill="none" stroke="#333333" stroke-width="2.7"/>
<path d="M2124 472.4L2129.8 481L2124 489.6L2118.2 481Z" fill="none" stroke="#333333" stroke-width="2.7"/>
<path d="M1260 86.5L1265.8 95.1L1260 103.7L1254.2 95.1Z" fill="none" stroke="#2a9dd8" stroke-width="2.7"/>
<path d="M1346.4 85.1L1352.2 93.7L1346.4 102.3L1340.6 93.7Z" fill="none" stroke="#2a9dd8" stroke-width="2.7"/>
<path d="M1432.8 88.8L1438.6 97.4L1432.8 106L1427 97.4Z" fill="none" stroke="#2a9dd8" stroke-width="2.7"/>
<path d="M1519.2 97L1525 105.6L1519.2 114.2L1513.4 105.6Z" fill="none" stroke="#2a9dd8" stroke-width="2.7"/>
<path d="M1605.6 127.6L1611.4 136.2L1605.6 144.8L1599.8 136.2Z" fill="none" stroke="#2a9dd8" stroke-width="2.7"/>
<path d="M1692 143.6L1697.8 152.2L1692 160.8L1686.2 152.2Z" fill="none" stroke="#2a9dd8" stroke-width="2.7"/>
<path d="M1778.4 181L1784.2 189.6L1778.4 198.2L1772.6 189.6Z" fill="none" stroke="#2a9dd8" stroke-width="2.7"/>
<path d="M1864.8 240.9L1870.6 249.5L1864.8 258.1L1859 249.5Z" fill="none" stroke="#2a9dd8" stroke-width="2.7"/>
<path d="M1951.2 302.5L1957 311.1L1951.2 319.7L1945.4 311.1Z" fill="none" stroke="#2a9dd8" stroke-width="2.7"/>
<path d="M2037.6 368.2L2043.4 376.8L2037.6 385.4L2031.8 376.8Z" fill="none" stroke="#2a9dd8" stroke-width="2.7"/>
<path d="M2124 451.8L2129.8 460.4L2124 469L2118.2 460.4Z" fill="none" stroke="#2a9dd8" stroke-width="2.7"/>
<path d="M1260 85.4L1265.8 94L1260 102.6L1254.2 94Z" fill="none" stroke="#f46f47" stroke-width="2.7"/>
<path d="M1346.4 132.2L1352.2 140.8L1346.4 149.4L1340.6 140.8Z" fill="none" stroke="#f46f47" stroke-width="2.7"/>
<path d="M1432.8 179.2L1438.6 187.8L1432.8 196.4L1427 187.8Z" fill="none" stroke="#f46f47" stroke-width="2.7"/>
<path d="M1519.2 226.7L1525 235.3L1519.2 243.9L1513.4 235.3Z" fill="none" stroke="#f46f47" stroke-width="2.7"/>
<path d="M1605.6 276L1611.4 284.6L1605.6 293.2L1599.8 284.6Z" fill="none" stroke="#f46f47" stroke-width="2.7"/>
<path d="M1692 328.5L1697.8 337.1L1692 345.7L1686.2 337.1Z" fill="none" stroke="#f46f47" stroke-width="2.7"/>
<path d="M1778.4 383.3L1784.2 391.9L1778.4 400.5L1772.6 391.9Z" fill="none" stroke="#f46f47" stroke-width="2.7"/>
<path d="M1864.8 444L1870.6 452.6L1864.8 461.2L1859 452.6Z" fill="none" stroke="#f46f47" stroke-width="2.7"/>
<path d="M1951.2 513.4L1957 522L1951.2 530.6L1945.4 522Z" fill="none" stroke="#f46f47" stroke-width="2.7"/>
<path d="M2037.6 602.5L2043.4 611.1L2037.6 619.7L2031.8 611.1Z" fill="none" stroke="#f46f47" stroke-width="2.7"/>
<path d="M2124 810.3L2129.8 818.9L2124 827.5L2118.2 818.9Z" fill="none" stroke="#f46f47" stroke-width="2.7"/>
<line x1="1873" y1="140.8" x2="1939" y2="140.8" stroke="#2a9dd8" stroke-width="3" />
<path d="M1906 133.3L1911.5 140.8L1906 148.3L1900.5 140.8Z" fill="#7cc4ea" stroke="#2a9dd8" stroke-width="3"/>
<line x1="1873" y1="179.8" x2="1939" y2="179.8" stroke="#3a3a3a" stroke-width="3" stroke-dasharray="8 9"/>
<path d="M1906 172.3L1912 179.8L1906 187.3L1900 179.8Z" fill="#ffffff" stroke="#333333" stroke-width="2.7"/>
<line x1="1873" y1="218.3" x2="1939" y2="218.3" stroke="#f46f47" stroke-width="3" />
<path d="M1906 210.8L1911.5 218.3L1906 225.8L1900.5 218.3Z" fill="#f9a88e" stroke="#f46f47" stroke-width="3"/>
<text x="1944" y="151.3" font-size="38" fill="#262626" text-anchor="start" font-family="'Liberation Sans', Arial, Helvetica, sans-serif" stroke="#262626" stroke-width="0.7" >R</text>
<text x="1944" y="190.3" font-size="38" fill="#262626" text-anchor="start" font-family="'Liberation Sans', Arial, Helvetica, sans-serif" stroke="#262626" stroke-width="0.7" >T</text>
<text x="1944" y="228.8" font-size="38" fill="#262626" text-anchor="start" font-family="'Liberation Sans', Arial, Helvetica, sans-serif" stroke="#262626" stroke-width="0.7" >Inclination</text>
<text transform="translate(1185,456.75) rotate(-90)" font-size="47" fill="#0886cc" stroke="#0886cc" stroke-width="0.7" text-anchor="middle" font-family="'Liberation Sans', Arial, Helvetica, sans-serif">R/T Efficiency(%)</text>
<text transform="translate(2240,456.75) rotate(-90)" font-size="47" fill="#fa5a22" stroke="#fa5a22" stroke-width="0.7" text-anchor="middle" font-family="'Liberation Sans', Arial, Helvetica, sans-serif">Inclination Angle(Degree)</text>
<text x="1693" y="911.5" font-size="46" fill="#262626" text-anchor="middle" font-family="'Liberation Sans', Arial, Helvetica, sans-serif" stroke="#262626" stroke-width="0.7" letter-spacing="0.4">Position X(um)</text>
<line x1="1260" y1="985.7" x2="2137" y2="985.7" stroke="#6a6a6a" stroke-width="3" />
<line x1="1260" y1="1712" x2="2137" y2="1712" stroke="#6a6a6a" stroke-width="3" />
<line x1="1552.3" y1="1712" x2="1552.3" y2="1703.4" stroke="#6a6a6a" stroke-width="2.2" />
<line x1="1552.3" y1="985.7" x2="1552.3" y2="994.3" stroke="#6a6a6a" stroke-width="2.2" />
<line x1="1844.6" y1="1712" x2="1844.6" y2="1703.4" stroke="#6a6a6a" stroke-width="2.2" />
<line x1="1844.6" y1="985.7" x2="1844.6" y2="994.3" stroke="#6a6a6a" stroke-width="2.2" />
<line x1="1260" y1="1704.7" x2="1268.6" y2="1704.7" stroke="#2a9dd8" stroke-width="2.2" />
<line x1="2137" y1="1704.7" x2="2128.4" y2="1704.7" stroke="#2a9dd8" stroke-width="2.2" />
<text x="1246" y="1717.2" font-size="42" fill="#0886cc" text-anchor="end" font-family="'Liberation Sans', Arial, Helvetica, sans-serif" stroke="#0886cc" stroke-width="0.7" >0</text>
<line x1="1260" y1="1560.9" x2="1268.6" y2="1560.9" stroke="#2a9dd8" stroke-width="2.2" />
<line x1="2137" y1="1560.9" x2="2128.4" y2="1560.9" stroke="#2a9dd8" stroke-width="2.2" />
<text x="1246" y="1573.4" font-size="42" fill="#0886cc" text-anchor="end" font-family="'Liberation Sans', Arial, Helvetica, sans-serif" stroke="#0886cc" stroke-width="0.7" >20</text>
<line x1="1260" y1="1417.1" x2="1268.6" y2="1417.1" stroke="#2a9dd8" stroke-width="2.2" />
<line x1="2137" y1="1417.1" x2="2128.4" y2="1417.1" stroke="#2a9dd8" stroke-width="2.2" />
<text x="1246" y="1429.6" font-size="42" fill="#0886cc" text-anchor="end" font-family="'Liberation Sans', Arial, Helvetica, sans-serif" stroke="#0886cc" stroke-width="0.7" >40</text>
<line x1="1260" y1="1273.3" x2="1268.6" y2="1273.3" stroke="#2a9dd8" stroke-width="2.2" />
<line x1="2137" y1="1273.3" x2="2128.4" y2="1273.3" stroke="#2a9dd8" stroke-width="2.2" />
<text x="1246" y="1285.8" font-size="42" fill="#0886cc" text-anchor="end" font-family="'Liberation Sans', Arial, Helvetica, sans-serif" stroke="#0886cc" stroke-width="0.7" >60</text>
<line x1="1260" y1="1129.5" x2="1268.6" y2="1129.5" stroke="#2a9dd8" stroke-width="2.2" />
<line x1="2137" y1="1129.5" x2="2128.4" y2="1129.5" stroke="#2a9dd8" stroke-width="2.2" />
<text x="1246" y="1142" font-size="42" fill="#0886cc" text-anchor="end" font-family="'Liberation Sans', Arial, Helvetica, sans-serif" stroke="#0886cc" stroke-width="0.7" >80</text>
<line x1="1260" y1="985.7" x2="1268.6" y2="985.7" stroke="#2a9dd8" stroke-width="2.2" />
<line x1="2137" y1="985.7" x2="2128.4" y2="985.7" stroke="#2a9dd8" stroke-width="2.2" />
<text x="1246" y="998.2" font-size="42" fill="#0886cc" text-anchor="end" font-family="'Liberation Sans', Arial, Helvetica, sans-serif" stroke="#0886cc" stroke-width="0.7" >100</text>
<line x1="2137" y1="985.7" x2="2128.4" y2="985.7" stroke="#f46f47" stroke-width="2.2" />
<text x="2151" y="998.2" font-size="42" fill="#fa5a22" text-anchor="start" font-family="'Liberation Sans', Arial, Helvetica, sans-serif" stroke="#fa5a22" stroke-width="0.7" >0</text>
<line x1="2137" y1="1146.5" x2="2128.4" y2="1146.5" stroke="#f46f47" stroke-width="2.2" />
<text x="2151" y="1159" font-size="42" fill="#fa5a22" text-anchor="start" font-family="'Liberation Sans', Arial, Helvetica, sans-serif" stroke="#fa5a22" stroke-width="0.7" >-20</text>
<line x1="2137" y1="1307.3" x2="2128.4" y2="1307.3" stroke="#f46f47" stroke-width="2.2" />
<text x="2151" y="1319.8" font-size="42" fill="#fa5a22" text-anchor="start" font-family="'Liberation Sans', Arial, Helvetica, sans-serif" stroke="#fa5a22" stroke-width="0.7" >-40</text>
<line x1="2137" y1="1468.1" x2="2128.4" y2="1468.1" stroke="#f46f47" stroke-width="2.2" />
<text x="2151" y="1480.6" font-size="42" fill="#fa5a22" text-anchor="start" font-family="'Liberation Sans', Arial, Helvetica, sans-serif" stroke="#fa5a22" stroke-width="0.7" >-60</text>
<line x1="2137" y1="1628.9" x2="2128.4" y2="1628.9" stroke="#f46f47" stroke-width="2.2" />
<text x="2151" y="1641.4" font-size="42" fill="#fa5a22" text-anchor="start" font-family="'Liberation Sans', Arial, Helvetica, sans-serif" stroke="#fa5a22" stroke-width="0.7" >-80</text>
<line x1="1260" y1="985.7" x2="1260" y2="1712" stroke="#2a9dd8" stroke-width="2.6" />
<line x1="2137" y1="985.7" x2="2137" y2="1712" stroke="#f46f47" stroke-width="2.6" />
<text x="1260" y="1758" font-size="42" fill="#262626" text-anchor="middle" font-family="'Liberation Sans', Arial, Helvetica, sans-serif" stroke="#262626" stroke-width="0.7" >0</text>
<text x="1552.3" y="1758" font-size="42" fill="#262626" text-anchor="middle" font-family="'Liberation Sans', Arial, Helvetica, sans-serif" stroke="#262626" stroke-width="0.7" >5</text>
<text x="1844.6" y="1758" font-size="42" fill="#262626" text-anchor="middle" font-family="'Liberation Sans', Arial, Helvetica, sans-serif" stroke="#262626" stroke-width="0.7" >10</text>
<text x="2136.9" y="1758" font-size="42" fill="#262626" text-anchor="middle" font-family="'Liberation Sans', Arial, Helvetica, sans-serif" stroke="#262626" stroke-width="0.7" >15</text>
<polyline points="1260,1704.8 1347.7,1704.8 1435.4,1704.8 1523.1,1704.8 1610.8,1704.8 1698.5,1704.8 1786.2,1704.8 1873.9,1704.8 1961.6,1704.8 2049.3,1704.8 2137,1704.8" fill="none" stroke="#3a3a3a" stroke-width="2.6" stroke-linejoin="round" stroke-dasharray="7.5 8.5"/>
<polyline points="1260,1080.6 1347.7,1087 1435.4,1105.3 1523.1,1134 1610.8,1141.8 1698.5,1083.8 1786.2,1077 1873.9,1082.5 1961.6,1078.4 2049.3,1086.1 2137,1128.6" fill="none" stroke="#2a9dd8" stroke-width="2.6" stroke-linejoin="round" />
<polyline points="1260,985.7 1347.7,1032.7 1435.4,1079.3 1523.1,1127.2 1610.8,1176.1 1698.5,1228.6 1786.2,1283.4 1873.9,1344.1 1961.6,1414.9 2049.3,1504 2137,1711.7" fill="none" stroke="#f46f47" stroke-width="2.6" stroke-linejoin="round" />
<path d="M1260 1696.2L1265.8 1704.8L1260 1713.4L1254.2 1704.8Z" fill="none" stroke="#333333" stroke-width="2.7"/>
<path d="M1347.7 1696.2L1353.5 1704.8L1347.7 1713.4L1341.9 1704.8Z" fill="none" stroke="#333333" stroke-width="2.7"/>
<path d="M1435.4 1696.2L1441.2 1704.8L1435.4 1713.4L1429.6 1704.8Z" fill="none" stroke="#333333" stroke-width="2.7"/>
<path d="M1523.1 1696.2L1528.9 1704.8L1523.1 1713.4L1517.3 1704.8Z" fill="none" stroke="#333333" stroke-width="2.7"/>
<path d="M1610.8 1696.2L1616.6 1704.8L1610.8 1713.4L1605 1704.8Z" fill="none" stroke="#333333" stroke-width="2.7"/>
<path d="M1698.5 1696.2L1704.3 1704.8L1698.5 1713.4L1692.7 1704.8Z" fill="none" stroke="#333333" stroke-width="2.7"/>
<path d="M1786.2 1696.2L1792 1704.8L1786.2 1713.4L1780.4 1704.8Z" fill="none" stroke="#333333" stroke-width="2.7"/>
<path d="M1873.9 1696.2L1879.7 1704.8L1873.9 1713.4L1868.1 1704.8Z" fill="none" stroke="#333333" stroke-width="2.7"/>
<path d="M1961.6 1696.2L1967.4 1704.8L1961.6 1713.4L1955.8 1704.8Z" fill="none" stroke="#333333" stroke-width="2.7"/>
<path d="M2049.3 1696.2L2055.1 1704.8L2049.3 1713.4L2043.5 1704.8Z" fill="none" stroke="#333333" stroke-width="2.7"/>
<path d="M2137 1696.2L2142.8 1704.8L2137 1713.4L2131.2 1704.8Z" fill="none" stroke="#333333" stroke-width="2.7"/>
<path d="M1260 1072L1265.8 1080.6L1260 1089.2L1254.2 1080.6Z" fill="none" stroke="#2a9dd8" stroke-width="2.7"/>
<path d="M1347.7 1078.4L1353.5 1087L1347.7 1095.6L1341.9 1087Z" fill="none" stroke="#2a9dd8" stroke-width="2.7"/>
<path d="M1435.4 1096.7L1441.2 1105.3L1435.4 1113.9L1429.6 1105.3Z" fill="none" stroke="#2a9dd8" stroke-width="2.7"/>
<path d="M1523.1 1125.4L1528.9 1134L1523.1 1142.6L1517.3 1134Z" fill="none" stroke="#2a9dd8" stroke-width="2.7"/>
<path d="M1610.8 1133.2L1616.6 1141.8L1610.8 1150.4L1605 1141.8Z" fill="none" stroke="#2a9dd8" stroke-width="2.7"/>
<path d="M1698.5 1075.2L1704.3 1083.8L1698.5 1092.4L1692.7 1083.8Z" fill="none" stroke="#2a9dd8" stroke-width="2.7"/>
<path d="M1786.2 1068.4L1792 1077L1786.2 1085.6L1780.4 1077Z" fill="none" stroke="#2a9dd8" stroke-width="2.7"/>
<path d="M1873.9 1073.9L1879.7 1082.5L1873.9 1091.1L1868.1 1082.5Z" fill="none" stroke="#2a9dd8" stroke-width="2.7"/>
<path d="M1961.6 1069.8L1967.4 1078.4L1961.6 1087L1955.8 1078.4Z" fill="none" stroke="#2a9dd8" stroke-width="2.7"/>
<path d="M2049.3 1077.5L2055.1 1086.1L2049.3 1094.7L2043.5 1086.1Z" fill="none" stroke="#2a9dd8" stroke-width="2.7"/>
<path d="M2137 1120L2142.8 1128.6L2137 1137.2L2131.2 1128.6Z" fill="none" stroke="#2a9dd8" stroke-width="2.7"/>
<path d="M1260 977.1L1265.8 985.7L1260 994.3L1254.2 985.7Z" fill="none" stroke="#f46f47" stroke-width="2.7"/>
<path d="M1347.7 1024.1L1353.5 1032.7L1347.7 1041.3L1341.9 1032.7Z" fill="none" stroke="#f46f47" stroke-width="2.7"/>
<path d="M1435.4 1070.7L1441.2 1079.3L1435.4 1087.9L1429.6 1079.3Z" fill="none" stroke="#f46f47" stroke-width="2.7"/>
<path d="M1523.1 1118.6L1528.9 1127.2L1523.1 1135.8L1517.3 1127.2Z" fill="none" stroke="#f46f47" stroke-width="2.7"/>
<path d="M1610.8 1167.5L1616.6 1176.1L1610.8 1184.7L1605 1176.1Z" fill="none" stroke="#f46f47" stroke-width="2.7"/>
<path d="M1698.5 1220L1704.3 1228.6L1698.5 1237.2L1692.7 1228.6Z" fill="none" stroke="#f46f47" stroke-width="2.7"/>
<path d="M1786.2 1274.8L1792 1283.4L1786.2 1292L1780.4 1283.4Z" fill="none" stroke="#f46f47" stroke-width="2.7"/>
<path d="M1873.9 1335.5L1879.7 1344.1L1873.9 1352.7L1868.1 1344.1Z" fill="none" stroke="#f46f47" stroke-width="2.7"/>
<path d="M1961.6 1406.3L1967.4 1414.9L1961.6 1423.5L1955.8 1414.9Z" fill="none" stroke="#f46f47" stroke-width="2.7"/>
<path d="M2049.3 1495.4L2055.1 1504L2049.3 1512.6L2043.5 1504Z" fill="none" stroke="#f46f47" stroke-width="2.7"/>
<path d="M2137 1703.1L2142.8 1711.7L2137 1720.3L2131.2 1711.7Z" fill="none" stroke="#f46f47" stroke-width="2.7"/>
<line x1="1841" y1="1160.1" x2="1907" y2="1160.1" stroke="#2a9dd8" stroke-width="3" />
<path d="M1874 1152.6L1879.5 1160.1L1874 1167.6L1868.5 1160.1Z" fill="#7cc4ea" stroke="#2a9dd8" stroke-width="3"/>
<line x1="1841" y1="1199.1" x2="1907" y2="1199.1" stroke="#3a3a3a" stroke-width="3" stroke-dasharray="8 9"/>
<path d="M1874 1191.6L1880 1199.1L1874 1206.6L1868 1199.1Z" fill="#ffffff" stroke="#333333" stroke-width="2.7"/>
<line x1="1841" y1="1237.6" x2="1907" y2="1237.6" stroke="#f46f47" stroke-width="3" />
<path d="M1874 1230.1L1879.5 1237.6L1874 1245.1L1868.5 1237.6Z" fill="#f9a88e" stroke="#f46f47" stroke-width="3"/>
<text x="1912" y="1170.6" font-size="38" fill="#262626" text-anchor="start" font-family="'Liberation Sans', Arial, Helvetica, sans-serif" stroke="#262626" stroke-width="0.7" >R</text>
<text x="1912" y="1209.6" font-size="38" fill="#262626" text-anchor="start" font-family="'Liberation Sans', Arial, Helvetica, sans-serif" stroke="#262626" stroke-width="0.7" >T</text>
<text x="1912" y="1248.1" font-size="38" fill="#262626" text-anchor="start" font-family="'Liberation Sans', Arial, Helvetica, sans-serif" stroke="#262626" stroke-width="0.7" >Inclination</text>
<text transform="translate(1160,1343.85) rotate(-90)" font-size="47" fill="#0886cc" stroke="#0886cc" stroke-width="0.7" text-anchor="middle" font-family="'Liberation Sans', Arial, Helvetica, sans-serif">R/T Efficiency(%)</text>
<text transform="translate(2256,1348.85) rotate(-90)" font-size="47" fill="#fa5a22" stroke="#fa5a22" stroke-width="0.7" text-anchor="middle" font-family="'Liberation Sans', Arial, Helvetica, sans-serif">Inclination Angle(Degree)</text>
<text x="1699.5" y="1803" font-size="46" fill="#262626" text-anchor="middle" font-family="'Liberation Sans', Arial, Helvetica, sans-serif" stroke="#262626" stroke-width="0.7" letter-spacing="0.4">Position X(um)</text>
<rect x="18.5" y="23.75" width="2278" height="1790.5" fill="none" stroke="#1b9ad6" stroke-width="7.2"/>
</svg>
</body></html>
